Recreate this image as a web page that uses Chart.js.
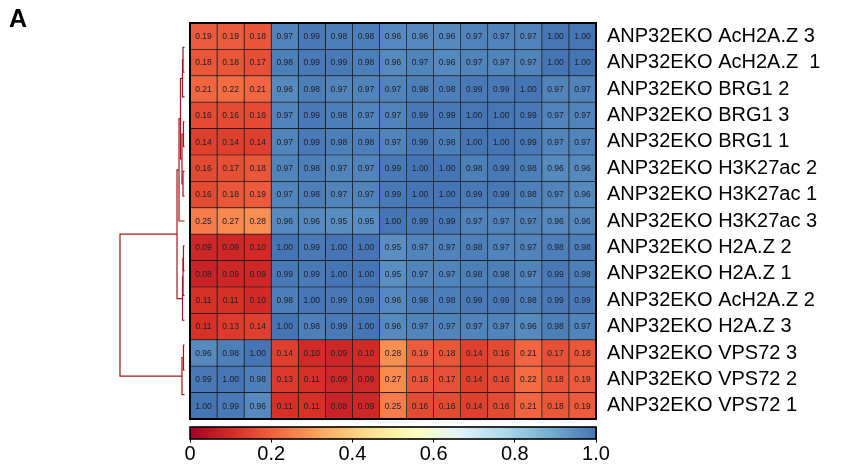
<!DOCTYPE html>
<html>
<head>
<meta charset="utf-8">
<script src="https://cdn.jsdelivr.net/npm/chart.js@4"></script>
<style>
  body { margin: 0; background: #fff; }
  #wrap { position: relative; width: 848px; height: 468px; }
  #panel { position: absolute; left: 9px; top: 4px; font: bold 25px "Liberation Sans", Arial, sans-serif; color: #000; }
  #heat { position: absolute; left: 0; top: 0; }
</style>
</head>
<body>
<div id="wrap">
  <canvas id="heat" width="848" height="468"></canvas>
  <div id="panel">A</div>
</div>
<script>
// row labels, top to bottom (dendrogram order)
const rowLabels = [
  "ANP32EKO AcH2A.Z 3",
  "ANP32EKO AcH2A.Z  1",
  "ANP32EKO BRG1 2",
  "ANP32EKO BRG1 3",
  "ANP32EKO BRG1 1",
  "ANP32EKO H3K27ac 2",
  "ANP32EKO H3K27ac 1",
  "ANP32EKO H3K27ac 3",
  "ANP32EKO H2A.Z 2",
  "ANP32EKO H2A.Z 1",
  "ANP32EKO AcH2A.Z 2",
  "ANP32EKO H2A.Z 3",
  "ANP32EKO VPS72 3",
  "ANP32EKO VPS72 2",
  "ANP32EKO VPS72 1",
];

// correlation values per row (15 columns each)
const acH2AZ3 = [0.19, 0.19, 0.18, 0.97, 0.99, 0.98, 0.98, 0.96, 0.96, 0.96, 0.97, 0.97, 0.97, 1.00, 1.00];
const acH2AZ1 = [0.18, 0.18, 0.17, 0.98, 0.99, 0.99, 0.98, 0.96, 0.97, 0.96, 0.97, 0.97, 0.97, 1.00, 1.00];
const brg1_2 = [0.21, 0.22, 0.21, 0.96, 0.98, 0.97, 0.97, 0.97, 0.98, 0.98, 0.99, 0.99, 1.00, 0.97, 0.97];
const brg1_3 = [0.16, 0.16, 0.16, 0.97, 0.99, 0.98, 0.97, 0.97, 0.99, 0.99, 1.00, 1.00, 0.99, 0.97, 0.97];
const brg1_1 = [0.14, 0.14, 0.14, 0.97, 0.99, 0.98, 0.98, 0.97, 0.99, 0.98, 1.00, 1.00, 0.99, 0.97, 0.97];
const h3k27ac2 = [0.16, 0.17, 0.18, 0.97, 0.98, 0.97, 0.97, 0.99, 1.00, 1.00, 0.98, 0.99, 0.98, 0.96, 0.96];
const h3k27ac1 = [0.16, 0.18, 0.19, 0.97, 0.98, 0.97, 0.97, 0.99, 1.00, 1.00, 0.99, 0.99, 0.98, 0.97, 0.96];
const h3k27ac3 = [0.25, 0.27, 0.28, 0.96, 0.96, 0.95, 0.95, 1.00, 0.99, 0.99, 0.97, 0.97, 0.97, 0.96, 0.96];
const h2az2 = [0.09, 0.09, 0.10, 1.00, 0.99, 1.00, 1.00, 0.95, 0.97, 0.97, 0.98, 0.97, 0.97, 0.98, 0.98];
const h2az1 = [0.08, 0.09, 0.09, 0.99, 0.99, 1.00, 1.00, 0.95, 0.97, 0.97, 0.98, 0.98, 0.97, 0.99, 0.98];
const acH2AZ2 = [0.11, 0.11, 0.10, 0.98, 1.00, 0.99, 0.99, 0.96, 0.98, 0.98, 0.99, 0.99, 0.98, 0.99, 0.99];
const h2az3 = [0.11, 0.13, 0.14, 1.00, 0.98, 0.99, 1.00, 0.96, 0.97, 0.97, 0.97, 0.97, 0.96, 0.98, 0.97];
const vps72_3 = [0.96, 0.98, 1.00, 0.14, 0.10, 0.09, 0.10, 0.28, 0.19, 0.18, 0.14, 0.16, 0.21, 0.17, 0.18];
const vps72_2 = [0.99, 1.00, 0.98, 0.13, 0.11, 0.09, 0.09, 0.27, 0.18, 0.17, 0.14, 0.16, 0.22, 0.18, 0.19];
const vps72_1 = [1.00, 0.99, 0.96, 0.11, 0.11, 0.08, 0.09, 0.25, 0.16, 0.16, 0.14, 0.16, 0.21, 0.18, 0.19];

const corr = [acH2AZ3, acH2AZ1, brg1_2, brg1_3, brg1_1, h3k27ac2, h3k27ac1, h3k27ac3,
  h2az2, h2az1, acH2AZ2, h2az3, vps72_3, vps72_2, vps72_1];

// dendrogram merges: [childA, childB, height]; leaves are 0..14, new nodes are 15..
const linkage = [
  [0, 1, 0.023],
  [15, 2, 0.031],
  [3, 4, 0.016],
  [5, 6, 0.023],
  [17, 18, 0.039],
  [16, 19, 0.062],
  [20, 7, 0.085],
  [8, 9, 0.016],
  [22, 10, 0.023],
  [23, 11, 0.031],
  [21, 24, 0.116],
  [12, 13, 0.016],
  [26, 14, 0.039],
  [25, 27, 1.0],
];

const colorbarTicks = [0, 0.2, 0.4, 0.6, 0.8, 1.0];

// RdYlBu style ramp, 0 -> dark red, 1 -> blue
const palette = ["#a50026", "#d73027", "#f46d43", "#fdae61", "#fee090",
  "#ffffbf", "#e0f3f8", "#abd9e9", "#74add1", "#4575b4"];

function hexRgb(h) {
  return [parseInt(h.slice(1, 3), 16), parseInt(h.slice(3, 5), 16), parseInt(h.slice(5, 7), 16)];
}

function colorFor(v) {
  let t = Math.max(0, Math.min(1, v)) * (palette.length - 1);
  let i = Math.min(Math.floor(t), palette.length - 2);
  let f = t - i;
  let a = hexRgb(palette[i]);
  let b = hexRgb(palette[i + 1]);
  let c = a.map((x, k) => Math.round(x + (b[k] - x) * f));
  return "rgb(" + c.join(",") + ")";
}

const FONT = "'Liberation Sans', Arial, sans-serif";

// one dataset per column, each row is a stacked cell of width 1
const datasets = corr[0].map((_, j) => ({
  data: corr.map(() => 1),
  backgroundColor: corr.map((row) => colorFor(row[j])),
  borderColor: "#151515",
  borderWidth: 0.7,
  borderSkipped: false,
  barPercentage: 1,
  categoryPercentage: 1,
  xAxisID: "x",
}));

const cellText = {
  id: "cellText",
  afterDatasetsDraw(chart) {
    const ctx = chart.ctx;
    ctx.save();
    ctx.font = "8.5px " + FONT;
    ctx.fillStyle = "#1e1e28";
    ctx.textAlign = "center";
    ctx.textBaseline = "middle";
    chart.data.datasets.forEach((ds, j) => {
      chart.getDatasetMeta(j).data.forEach((el, i) => {
        const p = el.getCenterPoint();
        ctx.fillText(corr[i][j].toFixed(2), p.x, p.y + 0.5);
      });
    });
    const a = chart.chartArea;
    ctx.lineWidth = 2;
    ctx.strokeStyle = "#000";
    ctx.strokeRect(a.left, a.top, a.right - a.left, a.bottom - a.top);
    ctx.restore();
  },
};

const dendrogram = {
  id: "dendrogram",
  afterDraw(chart) {
    const ctx = chart.ctx;
    const a = chart.chartArea;
    const ys = chart.scales.y;
    const mid = (a.top + a.bottom) / 2;
    const leafX = a.left - 5.5;
    const pos = [];
    rowLabels.forEach((_, i) => {
      pos.push({ x: leafX, y: mid + (ys.getPixelForValue(i) - mid) * 0.94 });
    });
    ctx.save();
    ctx.strokeStyle = "#a0171a";
    ctx.lineWidth = 1.2;
    linkage.forEach(([p, q, h]) => {
      const A = pos[p];
      const B = pos[q];
      const x = leafX - h * 64.5;
      ctx.beginPath();
      ctx.moveTo(A.x, A.y);
      ctx.lineTo(x, A.y);
      ctx.lineTo(x, B.y);
      ctx.lineTo(B.x, B.y);
      ctx.stroke();
      pos.push({ x: x, y: (A.y + B.y) / 2 });
    });
    ctx.restore();
  },
};

const colorbar = {
  id: "colorbar",
  afterDraw(chart) {
    const ctx = chart.ctx;
    const cb = chart.scales.cb;
    const a = chart.chartArea;
    const left = cb.getPixelForValue(0);
    const right = cb.getPixelForValue(1);
    const top = a.bottom + 8;
    const bottom = a.bottom + 20;
    ctx.save();
    ctx.fillStyle = "#fff";
    ctx.fillRect(left - 3, a.bottom + 1.2, right - left + 6, top - a.bottom - 1.2);
    const g = ctx.createLinearGradient(left, 0, right, 0);
    palette.forEach((c, i) => g.addColorStop(i / (palette.length - 1), c));
    ctx.fillStyle = g;
    ctx.fillRect(left, top, right - left, bottom - top);
    ctx.lineWidth = 1.6;
    ctx.strokeStyle = "#000";
    ctx.strokeRect(left, top, right - left, bottom - top);
    ctx.restore();
  },
};

new Chart(document.getElementById("heat"), {
  type: "bar",
  data: { labels: rowLabels, datasets: datasets },
  options: {
    indexAxis: "y",
    responsive: false,
    animation: false,
    devicePixelRatio: 1,
    layout: { padding: { left: 190, top: 9, right: 0, bottom: 0 } },
    plugins: { legend: { display: false }, tooltip: { enabled: false } },
    scales: {
      x: { stacked: true, min: 0, max: 15, display: false },
      y: {
        stacked: true,
        position: "right",
        grid: { display: false, drawTicks: false },
        border: { display: false },
        ticks: { color: "#000", font: { family: FONT, size: 20 }, padding: 11, autoSkip: false },
        afterFit: (s) => { s.width = 252; },
      },
      cb: {
        type: "linear",
        position: "bottom",
        min: 0,
        max: 1,
        afterBuildTicks: (s) => { s.ticks = colorbarTicks.map((v) => ({ value: v })); },
        ticks: {
          color: "#000",
          font: { family: FONT, size: 20 },
          padding: 0,
          maxRotation: 0,
          callback: (v) => (v === 0 ? "0" : v.toFixed(1)),
        },
        grid: { drawOnChartArea: false, color: "#000", tickLength: 23.5, tickWidth: 1 },
        border: { display: false },
        afterFit: (s) => { s.height = 49; },
      },
    },
  },
  plugins: [cellText, dendrogram, colorbar],
});
</script>
</body>
</html>
